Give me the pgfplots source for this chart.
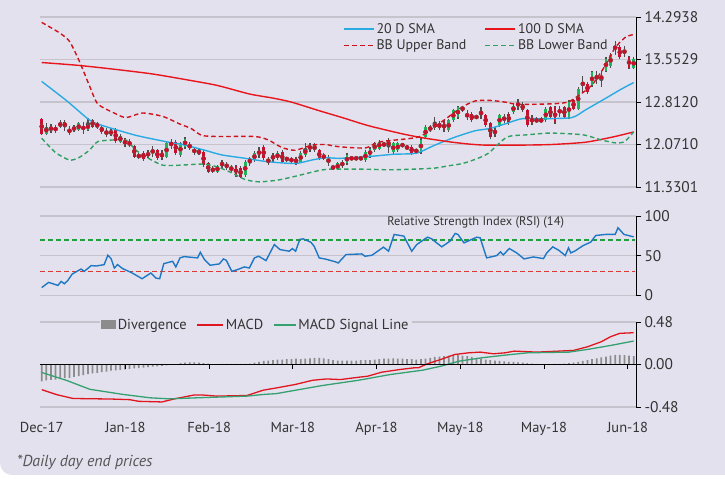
\documentclass[border=0pt]{standalone}
\usepackage{fontspec}
\setmainfont{PT Sans}
\usepackage{pgfplots}
\pgfplotsset{compat=1.18}
\usepackage{pgfplotstable}
\definecolor{bg}{HTML}{E4E1EE}
\definecolor{gridc}{HTML}{C6C3CC}
\definecolor{textc}{HTML}{333333}
\definecolor{footc}{HTML}{555555}
\definecolor{smablue}{HTML}{29ABE2}
\definecolor{smared}{HTML}{E8161C}
\definecolor{bbup}{HTML}{D0121B}
\definecolor{bblow}{HTML}{2FA060}
\definecolor{cgreen}{HTML}{1EB45A}
\definecolor{cred}{HTML}{C8102E}
\definecolor{wick}{HTML}{4D4D4D}
\definecolor{rsiblue}{HTML}{1F78C4}
\definecolor{lvlgreen}{HTML}{1FA040}
\definecolor{lvlred}{HTML}{E03A30}
\definecolor{macdred}{HTML}{E0161E}
\definecolor{siggreen}{HTML}{35A070}
\definecolor{divc}{HTML}{8C8C8C}

\pgfplotstableread{
i o h l c dv
0 12.51 12.54 12.23 12.26 -0.190
1 12.26 12.44 12.23 12.38 -0.180
2 12.35 12.42 12.27 12.35 -0.175
3 12.34 12.41 12.27 12.34 -0.170
4 12.38 12.49 12.35 12.46 -0.165
5 12.46 12.50 12.31 12.37 -0.155
6 12.31 12.39 12.23 12.31 -0.150
7 12.35 12.41 12.29 12.35 -0.140
8 12.32 12.46 12.31 12.44 -0.130
9 12.36 12.46 12.26 12.36 -0.120
10 12.32 12.54 12.31 12.44 -0.110
11 12.49 12.52 12.35 12.38 -0.100
12 12.44 12.46 12.34 12.37 -0.095
13 12.38 12.41 12.26 12.29 -0.085
14 12.28 12.35 12.20 12.28 -0.080
15 12.28 12.35 12.22 12.28 -0.070
16 12.33 12.36 12.10 12.13 -0.065
17 12.12 12.26 12.09 12.22 -0.060
18 12.16 12.19 12.03 12.06 -0.055
19 12.09 12.16 12.02 12.09 -0.050
20 12.04 12.07 11.83 11.86 -0.045
21 11.87 11.93 11.81 11.87 -0.040
22 11.93 11.96 11.79 11.81 -0.035
23 11.86 11.97 11.83 11.94 -0.030
24 11.95 12.04 11.86 11.95 -0.025
25 11.97 12.00 11.80 11.83 -0.020
26 11.94 11.97 11.80 11.83 -0.015
27 11.86 12.12 11.83 12.09 -0.010
28 12.08 12.16 12.00 12.08 -0.005
29 12.12 12.15 11.89 11.92 0.005
30 11.89 12.12 11.86 12.09 0.015
31 12.03 12.20 12.00 12.17 0.020
32 12.04 12.12 11.97 12.04 0.025
33 11.96 12.03 11.89 11.96 0.025
34 11.94 12.00 11.89 11.94 0.020
35 11.94 11.97 11.68 11.71 0.015
36 11.74 11.77 11.57 11.60 0.010
37 11.63 11.69 11.57 11.63 0.005
38 11.60 11.72 11.57 11.69 0.005
39 11.69 11.80 11.66 11.77 0.008
40 11.70 11.77 11.63 11.70 0.008
41 11.65 11.71 11.60 11.65 0.008
42 11.69 11.72 11.51 11.54 0.008
43 11.66 11.69 11.48 11.51 0.008
44 11.54 11.80 11.51 11.77 0.008
45 11.74 11.86 11.69 11.83 0.010
46 11.80 11.95 11.77 11.92 0.020
47 11.93 12.03 11.83 11.93 0.030
48 12.03 12.06 11.80 11.83 0.040
49 11.79 11.86 11.71 11.79 0.045
50 11.85 11.92 11.77 11.85 0.050
51 11.83 11.95 11.80 11.92 0.055
52 11.94 11.97 11.74 11.77 0.055
53 11.82 11.86 11.77 11.82 0.060
54 11.80 11.86 11.74 11.80 0.060
55 11.83 11.86 11.72 11.74 0.065
56 11.77 11.95 11.74 11.92 0.060
57 11.89 12.09 11.86 12.00 0.065
58 12.02 12.09 11.94 12.02 0.070
59 11.97 12.09 11.94 12.06 0.075
60 11.97 12.00 11.80 11.83 0.075
61 11.86 11.92 11.80 11.86 0.070
62 11.79 11.89 11.69 11.79 0.060
63 11.67 11.71 11.63 11.67 0.050
64 11.64 11.77 11.63 11.74 0.045
65 11.69 11.80 11.66 11.77 0.045
66 11.74 11.92 11.71 11.89 0.045
67 11.83 11.86 11.80 11.83 0.045
68 11.83 11.86 11.80 11.83 0.045
69 11.83 11.86 11.80 11.83 0.050
70 11.80 11.97 11.77 11.94 0.050
71 11.86 12.03 11.83 12.00 0.050
72 11.97 12.12 11.94 12.09 0.055
73 12.00 12.15 11.97 12.12 0.060
74 12.07 12.12 12.03 12.07 0.065
75 12.15 12.18 11.93 12.03 0.065
76 11.94 12.12 11.91 12.09 0.070
77 11.97 12.12 11.94 12.09 0.065
78 12.06 12.09 12.03 12.06 0.065
79 12.02 12.06 11.97 12.02 0.060
80 12.03 12.06 11.89 11.92 0.060
81 11.96 12.00 11.92 11.96 0.055
82 11.94 12.18 11.91 12.15 0.060
83 12.20 12.41 12.17 12.38 0.065
84 12.35 12.41 12.29 12.35 0.075
85 12.35 12.55 12.32 12.46 0.085
86 12.45 12.48 12.32 12.35 0.090
87 12.46 12.49 12.29 12.32 0.095
88 12.32 12.52 12.29 12.49 0.100
89 12.49 12.69 12.46 12.67 0.105
90 12.55 12.75 12.52 12.72 0.105
91 12.72 12.75 12.64 12.67 0.100
92 12.58 12.67 12.49 12.58 0.095
93 12.61 12.64 12.46 12.49 0.085
94 12.55 12.58 12.52 12.55 0.075
95 12.62 12.72 12.52 12.62 0.065
96 12.58 12.61 12.38 12.41 0.055
97 12.44 12.46 12.17 12.20 0.050
98 12.29 12.38 12.20 12.29 0.045
99 12.41 12.61 12.38 12.58 0.040
100 12.52 12.61 12.44 12.52 0.035
101 12.61 12.64 12.41 12.44 0.030
102 12.64 12.78 12.61 12.75 0.030
103 12.77 12.87 12.67 12.77 0.025
104 12.78 12.81 12.64 12.67 0.020
105 12.67 12.69 12.38 12.41 0.015
106 12.55 12.58 12.41 12.44 0.010
107 12.49 12.55 12.44 12.49 0.008
108 12.49 12.55 12.44 12.49 0.005
109 12.49 12.72 12.46 12.69 0.005
110 12.72 12.75 12.52 12.55 0.005
111 12.72 12.75 12.43 12.46 0.006
112 12.65 12.75 12.55 12.65 0.008
113 12.72 12.75 12.52 12.55 0.010
114 12.55 12.84 12.52 12.81 0.015
115 12.84 12.87 12.67 12.69 0.020
116 12.69 13.07 12.67 13.04 0.030
117 13.13 13.27 12.98 13.13 0.040
118 13.13 13.16 12.95 12.98 0.050
119 13.10 13.36 13.07 13.33 0.060
120 13.24 13.36 13.13 13.24 0.070
121 13.24 13.36 13.07 13.24 0.080
122 13.36 13.59 13.33 13.56 0.090
123 13.44 13.67 13.41 13.64 0.100
124 13.76 13.88 13.64 13.76 0.110
125 13.77 13.80 13.56 13.59 0.110
126 13.69 13.79 13.59 13.69 0.105
127 13.59 13.62 13.39 13.41 0.100
128 13.41 13.59 13.39 13.56 0.095
}\candles

\pgfplotstableread{
i v
0 13.17
5.3 12.84
10.3 12.50
13.2 12.40
20.4 12.23
26.9 12.12
31 12.06
35.3 11.97
38.9 11.89
44 11.83
49 11.77
54.8 11.74
58.4 11.80
61.3 11.84
64.5 11.83
70.6 11.86
76 11.90
81 11.92
85 12.06
89.4 12.20
93.7 12.31
96.9 12.35
100.2 12.43
103.8 12.52
108.1 12.52
114.6 12.54
117.5 12.67
121.8 12.87
125.4 13.04
128 13.15
}\smaA

\pgfplotstableread{
i v
0 13.50
8 13.45
16 13.38
24 13.30
32 13.19
38 13.10
45 12.95
50 12.88
54 12.81
60 12.66
65 12.54
70.6 12.40
77.8 12.26
82.2 12.19
87.9 12.12
92.2 12.08
96 12.06
103 12.06
110 12.07
117.5 12.11
123.4 12.20
128 12.29
}\smaB

\pgfplotstableread{
i v
0 14.20
3.8 14.02
6 13.87
8.1 13.53
10.3 13.10
12.1 12.78
15.4 12.63
18.2 12.54
21.8 12.62
26.2 12.56
29.8 12.43
32.3 12.35
34.6 12.23
38.1 12.21
46.1 12.21
49 12.15
51.9 12.02
54.8 11.97
58.4 12.06
61.3 12.07
64.5 12.03
69.9 12.01
72.1 12.09
74.2 12.13
81.4 12.20
85 12.38
87.9 12.55
90.8 12.72
93.7 12.83
96.9 12.84
100.2 12.81
103 12.77
110.3 12.78
113.8 12.81
116 12.92
118.9 13.10
121.8 13.44
124 13.76
126.2 13.94
128 13.99
}\bbU

\pgfplotstableread{
i v
0 12.18
3 11.93
6 11.80
8 11.84
10.3 11.97
12.1 12.12
15.4 12.15
18.2 12.15
20.4 11.97
23.3 11.82
26.2 11.71
29.8 11.71
34.9 11.73
38 11.68
41 11.58
44 11.46
47 11.42
51 11.45
55 11.52
59 11.60
62 11.64
70 11.64
75 11.63
80 11.64
85 11.66
88 11.70
91 11.74
94 11.82
96.6 11.92
100.6 12.20
105 12.24
110 12.27
117 12.24
121 12.15
124 12.10
126 12.12
128 12.29
}\bbL

\pgfplotstableread{
i v
0 10
1.5 16.5
3.5 12.7
4.2 17.7
4.9 14.8
5.6 18.6
6.6 27
8.5 33.3
9.2 30.4
10.7 37.6
11.8 37.1
13.5 38.8
14.3 50.6
15 46.4
15.7 34.6
16.4 38.8
17.5 33.8
19.3 29.1
20.2 26.2
21.7 21.1
23.6 28.3
24.7 21.9
25.5 21.1
26.4 40.1
28.3 43
29 35.9
29.9 47.3
30.8 48.9
33.7 47.3
34.3 54.4
35.2 45.1
36.4 38
38.4 39.7
39.3 46
39.9 44.3
41.1 30.4
42.3 32.5
43.8 35.9
44.9 34.6
46 47.3
46.9 49.4
48.5 43.9
50.3 64.1
51.5 57.8
53.5 55.7
54.2 59
54.9 55.7
55.8 70.5
56.5 71.3
58.2 67
58.9 62
60 47.3
61.5 45.6
63.6 42.2
64.1 40.9
65.8 51.5
69.2 52.3
69.9 49.4
71.4 50.6
73.9 60.8
75 55.7
76.2 76.8
78.3 74.7
80 55.7
81.1 64.1
83.4 73.4
84.3 71.3
86.5 61.2
88.3 68.4
89.4 78.1
90 76.8
91.3 66.2
94.1 73.4
94.8 72.5
96.2 47.3
98.4 50.2
99.2 54.9
99.8 51
101.1 59.1
102.7 53.6
104.3 46
106.3 48.5
108.5 46.4
109.2 53.6
110.5 61.2
111.9 56.5
113.2 50.2
113.9 59.9
114.4 53.6
115.3 56
117.1 62.9
118.7 67.1
119.8 75.5
121.9 76.8
124 76.8
124.6 85.2
125.9 76.8
128 73.8
}\rsi

\pgfplotstableread{
i v
0 -0.284
3.2 -0.34
6.8 -0.384
15 -0.39
19 -0.397
21 -0.416
26 -0.423
28.9 -0.386
32.9 -0.345
34.9 -0.345
37.8 -0.357
44.4 -0.350
47.9 -0.29
50.7 -0.265
54.7 -0.227
58.6 -0.178
61.6 -0.163
64.6 -0.17
68.5 -0.144
70.5 -0.132
73.5 -0.087
77.4 -0.057
80.4 -0.038
81.5 -0.036
83.4 0.008
86.3 0.057
89.3 0.113
92.3 0.132
94.8 0.14
97.7 0.121
100.2 0.132
102.2 0.151
107.1 0.14
110.1 0.147
115 0.159
118 0.20
121 0.257
123 0.314
125 0.352
128 0.359
}\macd

\pgfplotstableread{
i v
0 -0.090
5.4 -0.18
10.4 -0.28
17.6 -0.338
23.4 -0.376
27.7 -0.388
33.7 -0.376
44.4 -0.357
48 -0.338
50.7 -0.329
55.6 -0.284
60.6 -0.238
68.5 -0.178
75.4 -0.113
82.4 -0.064
86.3 -0.019
90.3 0.038
95.2 0.076
100.2 0.106
105.1 0.132
114 0.14
118 0.17
123 0.215
128 0.265
}\signal

\pgfplotsset{
  panel/.style={
    scale only axis, width=596bp,
    xmin=-0.37, xmax=128.5,
    axis y line*=right,
    y axis line style={line width=0.9bp, draw=black},
    ytick style={line width=0.9bp, draw=black},
    tick align=outside, major tick length=5bp,
    ymajorgrids, grid style={gridc, line width=1.3bp},
    yticklabel style={font=\fontsize{15.5}{17}\selectfont, text=textc},
    xticklabel style={font=\fontsize{14.5}{16}\selectfont, text=textc},
    /pgf/number format/assume math mode=true,
    anchor=south west,
  },
  legline/.style={legend image code/.code={\draw[##1] (0bp,0bp) -- (30bp,0bp);}},
  bbuleg/.style={legend image code/.code={\draw[bbup, line width=1.6bp, dash pattern=on 5bp off 3bp] (0bp,0bp) -- (30bp,0bp);}},
  bblleg/.style={legend image code/.code={\draw[bblow, line width=1.6bp, dash pattern=on 5bp off 3bp] (0bp,0bp) -- (30bp,0bp);}},
  macdleg/.style={legend image code/.code={\draw[##1] (0bp,0bp) -- (26bp,0bp);}},
  sigleg/.style={legend image code/.code={\draw[##1] (0bp,0bp) -- (22bp,0bp);}},
  divleg/.style={legend image code/.code={\fill[divc] (0bp,-4.5bp) rectangle (15bp,4.5bp);}},
}

\begin{document}
\begin{tikzpicture}
\useasboundingbox (0bp,0bp) rectangle (725bp,479bp);
\fill[white] (0bp,0bp) rectangle (725bp,479bp);
\fill[bg] (0bp,479bp) -- (725bp,479bp) -- (725bp,4bp) -- (12bp,4bp) arc[start angle=270, end angle=180, radius=12bp] -- cycle;

% ---------- Price panel ----------
\begin{axis}[panel, at={(40bp,292bp)}, height=170bp,
  axis x line=none,
  ymin=11.3301, ymax=14.2938,
  ytick={11.3301,12.0710,12.8120,13.5529,14.2938},
  yticklabels={11.3301,12.0710,12.8120,13.5529,14.2938},
  legend style={draw=none, fill=none, inner sep=0pt,
    font=\fontsize{14}{16}\selectfont, text=textc,
    at={(0.508,0.975)}, anchor=north west,
    /tikz/every even column/.append style={column sep=16bp},
    row sep=1bp},
  legend columns=2, legend cell align=left,
]
\addplot[wick, only marks, mark=none, forget plot,
  error bars/.cd, y dir=both, y explicit, error mark=none,
  error bar style={wick, line width=1.2bp, solid}]
  table[x=i, y expr={(\thisrow{h}+\thisrow{l})/2}, y error expr={(\thisrow{h}-\thisrow{l})/2}] {\candles};
\addplot[cgreen, only marks, mark=none, forget plot,
  error bars/.cd, y dir=both, y explicit, error mark=none,
  error bar style={cgreen, line width=2.8bp, solid}]
  table[x=i, y expr={(\thisrow{o}+\thisrow{c})/2}, y error expr={max(\thisrow{c}-\thisrow{o},0)/2}] {\candles};
\addplot[cred, only marks, mark=none, forget plot,
  error bars/.cd, y dir=both, y explicit, error mark=none,
  error bar style={cred, line width=2.8bp, solid}]
  table[x=i, y expr={(\thisrow{o}+\thisrow{c})/2}, y error expr={max(\thisrow{o}-\thisrow{c},0)/2}] {\candles};

\addplot[smablue, line width=1.4bp, smooth, tension=0.4, legline] table[x=i,y=v] {\smaA};
\addlegendentry{20 D SMA}
\addplot[smared, line width=1.4bp, smooth, tension=0.4, legline] table[x=i,y=v] {\smaB};
\addlegendentry{100 D SMA}
\addplot[bbup, line width=1.4bp, dash pattern=on 4.5bp off 3bp, smooth, tension=0.4, bbuleg] table[x=i,y=v] {\bbU};
\addlegendentry{BB Upper Band}
\addplot[bblow, line width=1.4bp, dash pattern=on 4.5bp off 3bp, smooth, tension=0.4, bblleg] table[x=i,y=v] {\bbL};
\addlegendentry{BB Lower Band}
\end{axis}

% ---------- RSI panel ----------
\begin{axis}[panel, at={(40bp,183.5bp)}, height=79.5bp,
  axis x line=none,
  ymin=0, ymax=100, ytick={0,50,100}, yticklabels={0,50,100},
]
\addplot[lvlgreen, line width=1.5bp, dash pattern=on 5bp off 3bp] coordinates {(-0.37,70) (128.3,70)};
\addplot[lvlred, line width=1.5bp, dash pattern=on 5bp off 3bp] coordinates {(-0.37,30) (128.3,30)};
\addplot[rsiblue, line width=1.4bp] table[x=i,y=v] {\rsi};
\node[font=\fontsize{12.5}{14}\selectfont, text=textc] at (rel axis cs:0.731,0.925) {Relative Strength Index (RSI) (14)};
\end{axis}

% ---------- MACD panel ----------
\begin{axis}[panel, at={(40bp,72bp)}, height=85bp,
  axis x line*=bottom, x axis line style={draw=none}, xtick style={draw=none},
  xtick={0,18.1,36.2,54.3,72.4,90.5,108.6,126.7},
  xticklabels={Dec-17,Jan-18,Feb-18,Mar-18,Apr-18,May-18,May-18,Jun-18},
  xticklabel shift=7bp,
  ymin=-0.48, ymax=0.48, ytick={-0.48,0,0.48}, yticklabels={-0.48,0.00,0.48},
  legend style={draw=none, fill=bg, inner sep=1bp,
    font=\fontsize{14.5}{16}\selectfont, text=textc,
    at={(0.1,0.965)}, anchor=west,
    /tikz/every even column/.append style={column sep=8bp}},
  legend columns=3, legend cell align=left,
]
\addplot[ybar, bar width=1.8bp, fill=divc, draw=none, divleg]
  table[x=i,y=dv] {\candles};
\addlegendentry{Divergence}
\addplot[macdred, line width=1.3bp, macdleg] table[x=i,y=v] {\macd};
\addlegendentry{MACD}
\addplot[siggreen, line width=1.3bp, sigleg] table[x=i,y=v] {\signal};
\addlegendentry{MACD Signal Line}
\draw[black, line width=0.9bp] (axis cs:-0.37,0) -- (axis cs:128.5,0);
\draw[black, line width=0.8bp] (axis cs:18.1,0) -- ++(0bp,-4bp);
\draw[black, line width=0.8bp] (axis cs:36.2,0) -- ++(0bp,-4bp);
\draw[black, line width=0.8bp] (axis cs:54.3,0) -- ++(0bp,-4bp);
\draw[black, line width=0.8bp] (axis cs:72.4,0) -- ++(0bp,-4bp);
\draw[black, line width=0.8bp] (axis cs:90.5,0) -- ++(0bp,-4bp);
\draw[black, line width=0.8bp] (axis cs:108.6,0) -- ++(0bp,-4bp);
\draw[black, line width=0.8bp] (axis cs:126.7,0) -- ++(0bp,-4bp);
\end{axis}

\node[anchor=west, font=\fontsize{16}{18}\selectfont\itshape, text=footc, inner sep=0pt] at (17bp,17bp) {*Daily day end prices};
\end{tikzpicture}
\end{document}
